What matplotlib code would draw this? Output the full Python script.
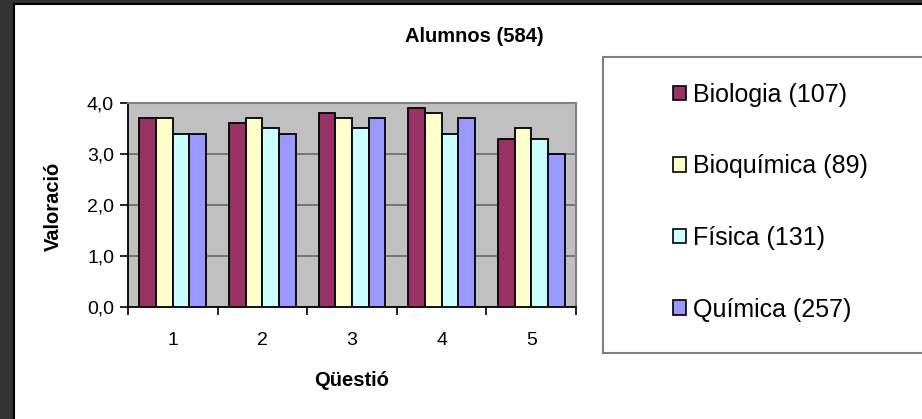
import numpy as np
import matplotlib
matplotlib.use('Agg')
import matplotlib.pyplot as plt
from matplotlib.patches import Rectangle, Patch

plt.rcParams['font.family'] = ['Liberation Sans', 'DejaVu Sans']

# data
questions = ['1', '2', '3', '4', '5']
series = ['Biologia (107)', 'Bioquímica (89)', 'Física (131)', 'Química (257)']
biologia = [3.7, 3.6, 3.8, 3.9, 3.3]
bioquimica = [3.7, 3.7, 3.7, 3.8, 3.5]
fisica = [3.4, 3.5, 3.5, 3.4, 3.3]
quimica = [3.4, 3.4, 3.7, 3.7, 3.0]
yticks = [0, 1, 2, 3, 4]
ytick_labels = ['0,0', '1,0', '2,0', '3,0', '4,0']

colors = ['#993366', '#FFFFCC', '#CCFFFF', '#9999FF']
values = [biologia, bioquimica, fisica, quimica]

W, H = 922, 419
fig = plt.figure(figsize=(W / 100, H / 100), dpi=100)
fig.patch.set_facecolor('#333333')

# white chart area with black inner line (left and top)
fig.patches.append(Rectangle((14 / W, 0), 1, 1 - 5 / H, transform=fig.transFigure,
                             facecolor='white', edgecolor='none', zorder=0))
fig.lines.append(plt.Line2D([13.5 / W, 13.5 / W], [0, 1 - 4.5 / H], transform=fig.transFigure,
                            color='black', lw=1.5, zorder=0.5))
fig.lines.append(plt.Line2D([13.5 / W, 1], [1 - 4.5 / H, 1 - 4.5 / H], transform=fig.transFigure,
                            color='black', lw=1.5, zorder=0.5))

ax = fig.add_axes([128 / W, 1 - 307 / H, 448 / W, 204 / H])
ax.set_zorder(2)
ax.set_facecolor('#C0C0C0')

x = np.arange(len(questions))
bw = 0.186
for i, (vals, c) in enumerate(zip(values, colors)):
    ax.bar(x + (i - 1.5) * bw, vals, bw, color=c, edgecolor='black', linewidth=1.3, zorder=3)

ax.set_xlim(-0.5, len(questions) - 0.5)
ax.set_ylim(0, 4)
ax.set_yticks(yticks)
ax.set_yticklabels(ytick_labels, fontsize=14)
ax.set_xticks(x)
ax.set_xticklabels(questions, fontsize=14)
ax.set_xticks(np.arange(-0.5, len(questions)), minor=True)
ax.tick_params(axis='x', which='major', length=0, pad=18)
ax.tick_params(axis='x', which='minor', length=6, width=1.2, direction='out')
ax.tick_params(axis='y', length=6, width=1.2, direction='out', pad=4)
ax.yaxis.grid(True, color='#707070', lw=1.3, zorder=1)
ax.set_axisbelow(True)

for s in ['left', 'bottom']:
    ax.spines[s].set_color('black')
    ax.spines[s].set_linewidth(1.3)
for s in ['top', 'right']:
    ax.spines[s].set_color('#808080')
    ax.spines[s].set_linewidth(1.5)

fig.text(474 / W, 1 - 36 / H, 'Alumnos (584)', ha='center', va='center',
         fontsize=14.5, fontweight='bold', zorder=3)
fig.text(352 / W, 1 - 380 / H, 'Qüestió', ha='center', va='center',
         fontsize=14.5, fontweight='bold', zorder=3)
fig.text(53 / W, 1 - 206 / H, 'Valoració', ha='center', va='center',
         fontsize=14.5, fontweight='bold', rotation=90, zorder=3)

# legend box runs off the right edge
fig.patches.append(Rectangle((603 / W, 1 - 353 / H), 400 / W, 296 / H, transform=fig.transFigure,
                             facecolor='white', edgecolor='#808080', lw=1.5, zorder=1))
handles = [Patch(facecolor=c, edgecolor='black', lw=1.2) for c in colors]
leg = fig.legend(handles, series, loc='upper left', bbox_to_anchor=(673 / W, 1 - 83 / H),
                 frameon=False, fontsize=18, handlelength=0.5, handleheight=0.5,
                 handletextpad=0.3, labelspacing=1.9, borderpad=0, borderaxespad=0)
leg.set_zorder(5)

fig.savefig('out.png', dpi=100, facecolor=fig.get_facecolor())
